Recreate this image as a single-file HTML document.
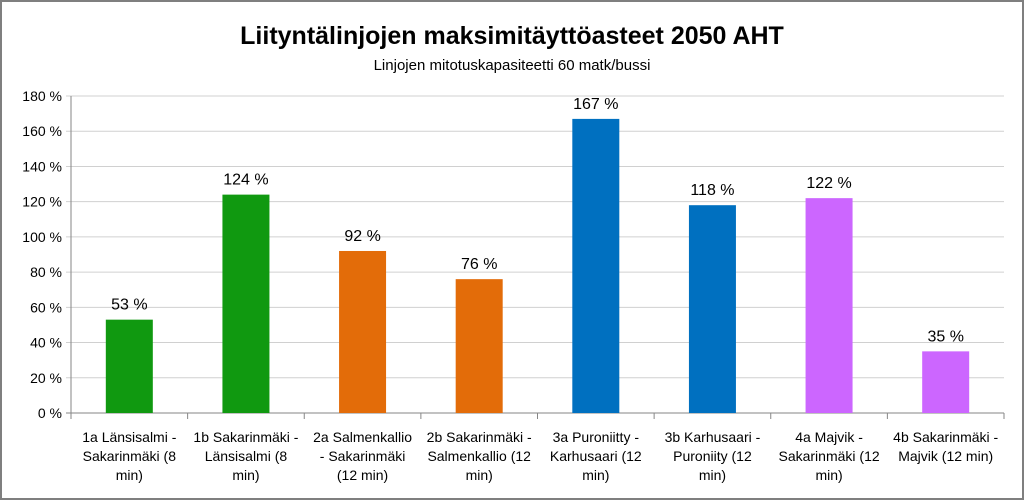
<!DOCTYPE html>
<html><head><meta charset="utf-8"><style>
html,body{margin:0;padding:0;background:#fff}
svg{display:block;font-family:"Liberation Sans",Calibri,sans-serif}
</style></head><body>
<svg id="chart" width="1024" height="500" viewBox="0 0 1024 500">
<rect x="1" y="1" width="1022" height="498" fill="#fff" stroke="#7f7f7f" stroke-width="2"/>
<text x="512" y="44" text-anchor="middle" font-size="25" font-weight="bold">Liityntälinjojen maksimitäyttöasteet 2050 AHT</text>
<text x="512" y="70" text-anchor="middle" font-size="15">Linjojen mitotuskapasiteetti 60 matk/bussi</text>
<g id="grid"></g><g id="bars"></g><g id="labels"></g>
</svg>
<script>
const categories=[["1a Länsisalmi -","Sakarinmäki (8","min)"],["1b Sakarinmäki -","Länsisalmi (8","min)"],["2a Salmenkallio","- Sakarinmäki","(12 min)"],["2b Sakarinmäki -","Salmenkallio (12","min)"],["3a Puroniitty -","Karhusaari (12","min)"],["3b Karhusaari -","Puroniity (12","min)"],["4a Majvik -","Sakarinmäki (12","min)"],["4b Sakarinmäki -","Majvik (12 min)"]];
const values=[53,124,92,76,167,118,122,35];
const colors=["#109910","#109910","#e36c09","#e36c09","#0070c0","#0070c0","#cc66ff","#cc66ff"];
const ticks=[0,20,40,60,80,100,120,140,160,180];
const NS="http://www.w3.org/2000/svg";
const x0=71,x1=1004,yb=413,yt=96,ymax=180;
const y=v=>yb-(v/ymax)*(yb-yt);
const bw=(x1-x0)/categories.length;
const xc=i=>x0+bw*(i+0.5);
function mk(t,a,p){const e=document.createElementNS(NS,t);for(const k in a)e.setAttribute(k,a[k]);p.appendChild(e);return e;}
const g=document.getElementById('grid'),b=document.getElementById('bars'),l=document.getElementById('labels');
ticks.forEach(t=>{
 const ln=mk('line',{x1:x0-5,x2:x1,y1:y(t),y2:y(t),stroke:t===0?'#868686':'#d0d0d0','stroke-width':1},g);
 
 
 const tx=mk('text',{x:x0-9,y:y(t)+5,'text-anchor':'end','font-size':14},g);
 tx.textContent=t+' %';
 
 
});
const ax=mk('line',{x1:x0,x2:x0,y1:yt,y2:yb,stroke:'#868686'},g);


for(let i=0;i<=categories.length;i++){
 const tk=mk('line',{x1:x0+bw*i,x2:x0+bw*i,y1:yb,y2:yb+6,stroke:'#868686'},g);
 
 
}
values.forEach((v,i)=>{
 const r=mk('rect',{x:xc(i)-23.5,y:y(v),width:47,height:yb-y(v),fill:colors[i]},b);
 
 
 const t=mk('text',{x:xc(i),y:y(v)-10,'text-anchor':'middle','font-size':16},l);
 t.textContent=v+' %';
 
 
 const c=mk('text',{x:xc(i),y:442,'text-anchor':'middle','font-size':14},l);
 
 
 categories[i].forEach((s,j)=>{const ts=mk('tspan',{x:xc(i),dy:j?19:0},c);ts.textContent=s;});
});
</script>
</body></html>
